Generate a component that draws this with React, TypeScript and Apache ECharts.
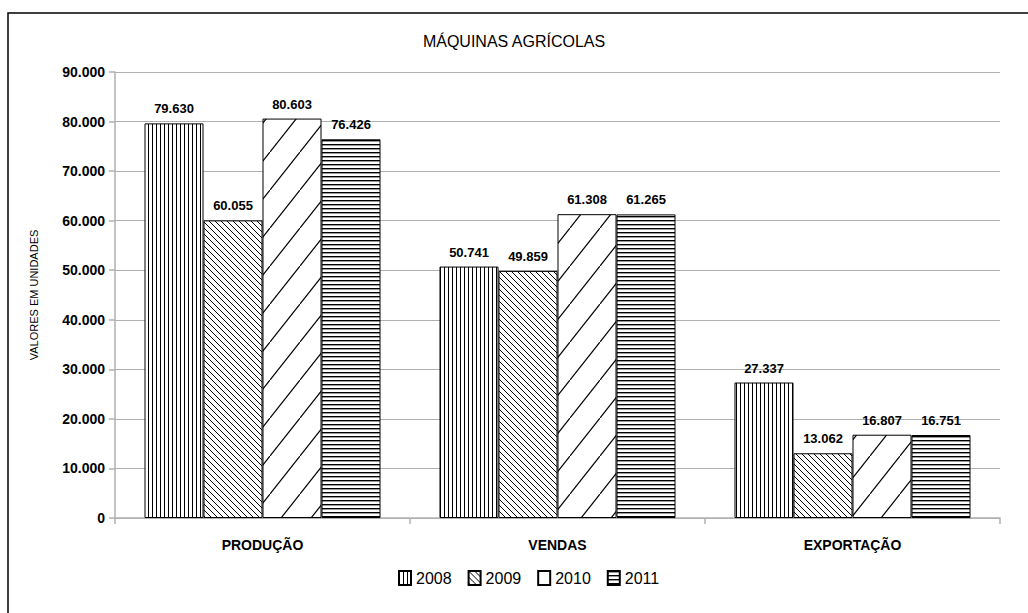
import React, { useEffect, useRef } from "react";
import * as echarts from "echarts";

const categories = ["PRODUÇÃO", "VENDAS", "EXPORTAÇÃO"];
const years = ["2008", "2009", "2010", "2011"];
const values2008 = [79630, 50741, 27337];
const values2009 = [60055, 49859, 13062];
const values2010 = [80603, 61308, 16807];
const values2011 = [76426, 61265, 16751];
const seriesValues = [values2008, values2009, values2010, values2011];

const FONT = "'Liberation Sans Narrow', 'Arial Narrow', 'Liberation Sans', Arial, sans-serif";

const fmt = (n: number) => String(n).replace(/\B(?=(\d{3})+(?!\d))/g, ".");

function makePattern(kind: number) {
  const c = document.createElement("canvas");
  let w = 4, h = 4;
  if (kind === 0) { w = 4; h = 4; }
  if (kind === 1) { w = 6; h = 6; }
  if (kind === 2) { w = 30; h = 38; }
  if (kind === 3) { w = 4; h = 4; }
  c.width = w; c.height = h;
  const ctx = c.getContext("2d")!;
  ctx.fillStyle = "#ffffff";
  ctx.fillRect(0, 0, w, h);
  ctx.fillStyle = "#000000";
  ctx.strokeStyle = "#000000";
  if (kind === 0) {
    ctx.fillRect(0, 0, 1, h);
  } else if (kind === 3) {
    ctx.fillRect(0, 0, w, 1.4);
  } else if (kind === 1) {
    ctx.lineWidth = 1;
    ctx.beginPath();
    ctx.moveTo(-1, -1); ctx.lineTo(w + 1, h + 1);
    ctx.moveTo(-1, h - 1); ctx.lineTo(1, h + 1);
    ctx.moveTo(w - 1, -1); ctx.lineTo(w + 1, 1);
    ctx.stroke();
  } else if (kind === 2) {
    ctx.lineWidth = 1.2;
    ctx.beginPath();
    ctx.moveTo(-w, 2 * h); ctx.lineTo(w * 2, -h);
    ctx.stroke();
  }
  return { image: c, repeat: "repeat", imageWidth: w, imageHeight: h } as any;
}

export default function App() {
  const ref = useRef<HTMLDivElement>(null);
  useEffect(() => {
    if (!ref.current) return;
    const chart = echarts.init(ref.current, null, { renderer: "svg" });
    const series = years.map((y, i) => ({
      name: y,
      type: "bar",
      data: seriesValues[i],
      barGap: "0%",
      barCategoryGap: "20%",
      itemStyle: { color: makePattern(i), borderColor: "#000", borderWidth: 1 },
      label: {
        show: true,
        position: "top",
        distance: 8,
        formatter: (p: any) => fmt(p.value),
        fontFamily: FONT,
        fontWeight: "bold",
        fontSize: 13,
        color: "#000",
      },
    }));
    chart.setOption({
      animation: false,
      backgroundColor: "#ffffff",
      title: {
        text: "MÁQUINAS AGRÍCOLAS",
        left: "center",
        top: 28,
        textStyle: { fontFamily: FONT, fontWeight: "normal", fontSize: 16, color: "#000" },
      },
      graphic: [
        {
          type: "rect",
          shape: { x: 8, y: 13, width: 1030, height: 610 },
          style: { fill: "none", stroke: "#000", lineWidth: 1.5 },
          silent: true,
        },
      ],
      legend: {
        bottom: 22,
        left: 393,
        itemWidth: 12,
        itemHeight: 14,
        itemGap: 16,
        icon: "rect",
        textStyle: { fontFamily: FONT, fontSize: 16, color: "#000" },
        data: years,
      },
      grid: { left: 115, right: 28, top: 72, bottom: 95, containLabel: false },
      xAxis: {
        type: "category",
        data: categories,
        axisLine: { lineStyle: { color: "#b0b0b0", width: 1.5 } },
        axisTick: { show: true, length: 6, lineStyle: { color: "#b0b0b0", width: 1.5 } },
        axisLabel: { fontFamily: FONT, fontWeight: "bold", fontSize: 14, color: "#000", margin: 20 },
      },
      yAxis: {
        type: "value",
        min: 0,
        max: 90000,
        interval: 10000,
        name: "VALORES EM UNIDADES",
        nameLocation: "middle",
        nameGap: 76,
        nameTextStyle: { fontFamily: FONT, fontSize: 11, color: "#000" },
        axisLine: { show: true, lineStyle: { color: "#b0b0b0", width: 1.5 } },
        axisTick: { show: true, length: 6, lineStyle: { color: "#b0b0b0", width: 1.5 } },
        splitLine: { lineStyle: { color: "#b0b0b0", width: 1 } },
        axisLabel: {
          formatter: (v: number) => fmt(v),
          fontFamily: FONT,
          fontWeight: "bold",
          fontSize: 14,
          color: "#000",
          margin: 10,
        },
      },
      series,
    });
    return () => chart.dispose();
  }, []);
  return (
    <div
      ref={ref}
      style={{ position: "fixed", left: 0, top: 0, width: 1028, height: 613, background: "#fff" }}
    />
  );
}
